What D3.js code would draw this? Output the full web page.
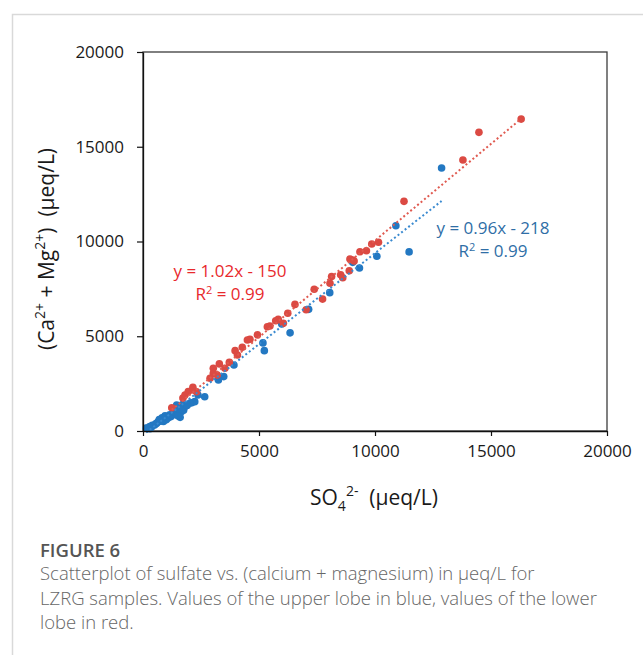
<!DOCTYPE html>
<html>
<head>
<meta charset="utf-8">
<script src="https://cdn.jsdelivr.net/npm/d3@7"></script>
<style>
  body { margin: 0; background: #fff; }
  text { font-family: "Open Sans", sans-serif; }
</style>
</head>
<body>
<svg id="mychart" width="643" height="655"></svg>
<script>
// axis ticks
const xTicks = [0, 5000, 10000, 15000, 20000];
const yTicks = [0, 5000, 10000, 15000, 20000];

// upper lobe (blue) : [SO4, Ca+Mg]
const blueX = [12870, 10900, 11470, 10080, 9330, 9040, 8050, 7140, 5980, 6340, 5170, 5230, 3920, 3480, 3250,
  2660, 2370, 2230, 2100, 2030, 1800, 1650, 1600, 1600, 1450, 1420, 1240, 1210, 1080, 1020, 880, 860,
  650, 590, 500, 380, 290, 160, 140, 700, 1300, 950, 1700,
  400, 550, 750, 1000, 1150, 1350, 1500, 1750, 300, 820, 1900, 1550];
const blueY = [13880, 10830, 9450, 9220, 8600, 8900, 7300, 6420, 5650, 5180, 4650, 4240, 3480, 2870, 2690,
  1810, 1900, 1550, 1490, 1480, 1280, 1020, 1200, 720, 1370, 950, 840, 760, 690, 670, 500, 580,
  490, 410, 320, 230, 230, 140, 150, 600, 900, 800, 1400,
  300, 380, 520, 600, 850, 1000, 800, 1100, 120, 700, 1350, 1150];

// lower lobe (red)
const redX = [16300, 14480, 13790, 11250, 10150, 9860, 9630, 9350, 9040, 8920, 9100, 8890, 8520, 8610, 8130,
  8060, 7380, 7740, 7030, 6550, 6240, 5830, 5720, 6050, 5360, 5470, 4930, 4610, 4500, 4280, 3970, 4070,
  3720, 3290, 3030, 3030, 3530, 3200, 2890, 2160, 1950, 1810, 1720, 2310, 2150, 1240];
const redY = [16460, 15760, 14300, 12120, 9960, 9870, 9510, 9460, 9020, 9075, 8970, 8460, 8240, 8090, 8150,
  7800, 7480, 6960, 6400, 6680, 6210, 5890, 5820, 5680, 5500, 5540, 5070, 4840, 4800, 4420, 4240, 4010,
  3620, 3540, 3310, 3040, 3310, 2950, 2780, 2160, 2080, 1900, 1740, 2070, 2300, 1230];

// trendlines (slope, intercept) as printed on the chart
const blueFit = [0.96, -218];
const redFit = [1.02, -150];

const blue = "#2378c2", red = "#db4a43";

const svg = d3.select("#mychart");

// page frame
svg.append("path")
  .attr("d", "M12.5,655 V14.5 H643")
  .attr("fill", "none")
  .attr("stroke", "#d9d9d9")
  .attr("stroke-width", 1.5);

const x_Scale = d3.scaleLinear().domain([0, 20000]).range([143, 607]);
const y_Scale = d3.scaleLinear().domain([0, 20000]).range([431, 52]);

// plot box
svg.append("rect")
  .attr("x", x_Scale(0))
  .attr("y", y_Scale(20000))
  .attr("width", x_Scale(20000) - x_Scale(0))
  .attr("height", y_Scale(0) - y_Scale(20000))
  .attr("fill", "none")
  .attr("stroke", "#3c3c3c")
  .attr("stroke-width", 1.3);

// points
const bluePts = blueX.map((v, i) => [v, blueY[i]]);
const redPts = redX.map((v, i) => [v, redY[i]]);

svg.selectAll(".blue-point")
  .data(bluePts)
  .join("circle")
  .attr("class", "blue-point")
  .attr("cx", (d) => x_Scale(d[0]))
  .attr("cy", (d) => y_Scale(d[1]))
  .attr("r", 3.8)
  .attr("fill", blue);

svg.selectAll(".red-point")
  .data(redPts)
  .join("circle")
  .attr("class", "red-point")
  .attr("cx", (d) => x_Scale(d[0]))
  .attr("cy", (d) => y_Scale(d[1]))
  .attr("r", 3.8)
  .attr("fill", red);

// trendlines, spanning each series' x range
function trend(xs, fit, color) {
  const ends = d3.extent(xs).map((v) => [v, fit[0] * v + fit[1]]);
  svg.append("path")
    .attr("d", d3.line().x((d) => x_Scale(d[0])).y((d) => y_Scale(d[1]))(ends))
    .attr("fill", "none")
    .attr("stroke", color)
    .attr("stroke-width", 2)
    .attr("stroke-dasharray", "2,2.5");
}
trend(blueX, blueFit, "#3a8ad0");
trend(redX, redFit, "#e05a50");

// axes
const yAxis = svg.append("g")
  .attr("transform", `translate(${x_Scale(0)},0)`)
  .call(d3.axisLeft(y_Scale).tickValues(yTicks).tickSize(6).tickSizeOuter(0).tickPadding(13).tickFormat(d3.format("d")));
const xAxis = svg.append("g")
  .attr("transform", `translate(0,${y_Scale(0)})`)
  .call(d3.axisBottom(x_Scale).tickValues(xTicks).tickSize(5).tickSizeOuter(0).tickPadding(9).tickFormat(d3.format("d")));

[xAxis, yAxis].forEach((g) => {
  g.select(".domain").attr("stroke", "#111").attr("stroke-width", 1.3);
  g.selectAll(".tick line").attr("stroke", "#111").attr("stroke-width", 1.2);
  g.selectAll(".tick text")
    .attr("fill", "#1a1a1a")
    .style("font-family", "'Open Sans', sans-serif")
    .style("font-size", "17px");
});

// regression labels
function eqLabel(cx, y, lines, color) {
  lines.forEach((ln, i) => {
    const t = svg.append("text")
      .attr("x", cx)
      .attr("y", y + i * 23)
      .attr("text-anchor", "middle")
      .attr("fill", color)
      .style("font-size", "17px");
    ln.forEach((part) => {
      const s = t.append("tspan").text(part[0]);
      if (part[1] === "sup") s.attr("dy", -6).style("font-size", "11px");
      if (part[1] === "back") s.attr("dy", 6);
    });
  });
}
eqLabel(230, 277, [[["y = 1.02x - 150"]], [["R"], ["2", "sup"], [" = 0.99", "back"]]], "#e8292c");
eqLabel(493, 234, [[["y = 0.96x - 218"]], [["R"], ["2", "sup"], [" = 0.99", "back"]]], "#2f6ea6");

// axis titles
const xt = svg.append("text")
  .attr("x", 374)
  .attr("y", 505)
  .attr("text-anchor", "middle")
  .attr("fill", "#1a1a1a")
  .attr("xml:space", "preserve")
  .style("font-size", "21px");
xt.append("tspan").text("SO");
xt.append("tspan").text("4").attr("dy", 6).style("font-size", "14px");
xt.append("tspan").text("2-").attr("dy", -15).style("font-size", "14px");
xt.append("tspan").text("  (µeq/L)").attr("dy", 9);

const yt = svg.append("text")
  .attr("transform", "translate(54,249) rotate(-90)")
  .attr("text-anchor", "middle")
  .attr("fill", "#1a1a1a")
  .attr("xml:space", "preserve")
  .style("font-size", "21px");
yt.append("tspan").text("(Ca");
yt.append("tspan").text("2+").attr("dy", -9).style("font-size", "14px");
yt.append("tspan").text(" + Mg").attr("dy", 9);
yt.append("tspan").text("2+").attr("dy", -9).style("font-size", "14px");
yt.append("tspan").text(")  (µeq/L)").attr("dy", 9);

// caption
svg.append("text")
  .attr("x", 40)
  .attr("y", 557)
  .attr("fill", "#555")
  .style("font-size", "18.5px")
  .style("font-weight", "600")
  .text("FIGURE 6");

const caption = [
  "Scatterplot of sulfate vs. (calcium + magnesium) in µeq/L for",
  "LZRG samples. Values of the upper lobe in blue, values of the lower",
  "lobe in red."
];
svg.selectAll(".caption")
  .data(caption)
  .join("text")
  .attr("class", "caption")
  .attr("x", 40)
  .attr("y", (d, i) => 580 + i * 24.5)
  .attr("fill", "#666")
  .style("font-size", "18.5px")
  .style("font-weight", "300")
  .text((d) => d);
</script>
</body>
</html>
